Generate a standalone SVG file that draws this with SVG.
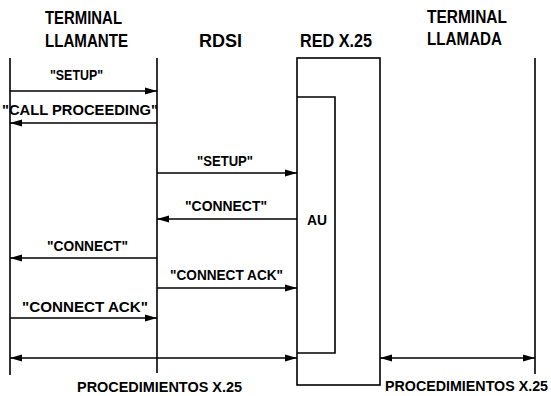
<svg xmlns="http://www.w3.org/2000/svg" width="551" height="396" viewBox="0 0 551 396">
<style>
.ln{stroke:#000;stroke-width:1.6;fill:none}
.ar{stroke:#000;stroke-width:1.3;fill:none}
.t{font-family:"Liberation Sans",Arial,sans-serif;font-weight:bold;fill:#000}
.h{font-size:18px}
.m{font-size:15px}
.p{font-size:14.5px}
</style>
<defs>
<marker id="ah" markerWidth="13" markerHeight="9" refX="12" refY="4.5" orient="auto" markerUnits="userSpaceOnUse">
<path d="M0,1 L12,4.5 L0,8 Z" fill="#000"/>
</marker>
<marker id="as" markerWidth="13" markerHeight="9" refX="0" refY="4.5" orient="auto" markerUnits="userSpaceOnUse">
<path d="M12,1 L0,4.5 L12,8 Z" fill="#000"/>
</marker>
</defs>
<rect width="551" height="396" fill="#fff"/>
<g id="terminal-llamante">
<line class="ln" x1="10" y1="58" x2="10" y2="375"/>
<text class="t h" x="45" y="24" textLength="77" lengthAdjust="spacingAndGlyphs">TERMINAL</text>
<text class="t h" x="45" y="47" textLength="83" lengthAdjust="spacingAndGlyphs">LLAMANTE</text>
</g>
<g id="rdsi">
<line class="ln" x1="157" y1="58" x2="157" y2="373"/>
<text class="t h" x="199" y="47" textLength="43" lengthAdjust="spacingAndGlyphs">RDSI</text>
</g>
<g id="red-x25">
<rect class="ln" x="297" y="58" width="83" height="327"/>
<text class="t h" x="300" y="47" textLength="72" lengthAdjust="spacingAndGlyphs">RED X.25</text>
</g>
<g id="au">
<polyline class="ln" points="297,97 335,97 335,353 297,353"/>
<text class="t m" x="307" y="225" textLength="20" lengthAdjust="spacingAndGlyphs">AU</text>
</g>
<g id="terminal-llamada">
<line class="ln" x1="535" y1="58" x2="535" y2="374"/>
<text class="t h" x="427" y="23" textLength="80" lengthAdjust="spacingAndGlyphs">TERMINAL</text>
<text class="t h" x="427" y="45" textLength="75" lengthAdjust="spacingAndGlyphs">LLAMADA</text>
</g>
<g id="connectors">
<line class="ar" x1="10" y1="91" x2="157" y2="91" marker-end="url(#ah)"/>
<text class="t m" x="50" y="80" textLength="53" lengthAdjust="spacingAndGlyphs">"SETUP"</text>
<line class="ar" x1="157" y1="123" x2="10" y2="123" marker-end="url(#ah)"/>
<text class="t m" x="2" y="115" textLength="156" lengthAdjust="spacingAndGlyphs">"CALL PROCEEDING"</text>
<line class="ar" x1="157" y1="173" x2="297" y2="173" marker-end="url(#ah)"/>
<text class="t m" x="197" y="166" textLength="56" lengthAdjust="spacingAndGlyphs">"SETUP"</text>
<line class="ar" x1="297" y1="219" x2="157" y2="219" marker-end="url(#ah)"/>
<text class="t m" x="185" y="211" textLength="82" lengthAdjust="spacingAndGlyphs">"CONNECT"</text>
<line class="ar" x1="157" y1="258" x2="10" y2="258" marker-end="url(#ah)"/>
<text class="t m" x="47" y="251" textLength="81" lengthAdjust="spacingAndGlyphs">"CONNECT"</text>
<line class="ar" x1="157" y1="288" x2="297" y2="288" marker-end="url(#ah)"/>
<text class="t m" x="170" y="280" textLength="113" lengthAdjust="spacingAndGlyphs">"CONNECT ACK"</text>
<line class="ar" x1="10" y1="318" x2="157" y2="318" marker-end="url(#ah)"/>
<text class="t m" x="22" y="312" textLength="126" lengthAdjust="spacingAndGlyphs">"CONNECT ACK"</text>
<line class="ar" x1="10" y1="358" x2="297" y2="358" marker-start="url(#as)" marker-end="url(#ah)"/>
<line class="ar" x1="380" y1="358" x2="535" y2="358" marker-start="url(#as)" marker-end="url(#ah)"/>
<text class="t p" x="77" y="392" textLength="165" lengthAdjust="spacingAndGlyphs">PROCEDIMIENTOS X.25</text>
<text class="t p" x="385" y="391" textLength="163" lengthAdjust="spacingAndGlyphs">PROCEDIMIENTOS X.25</text>
</g>
</svg>
